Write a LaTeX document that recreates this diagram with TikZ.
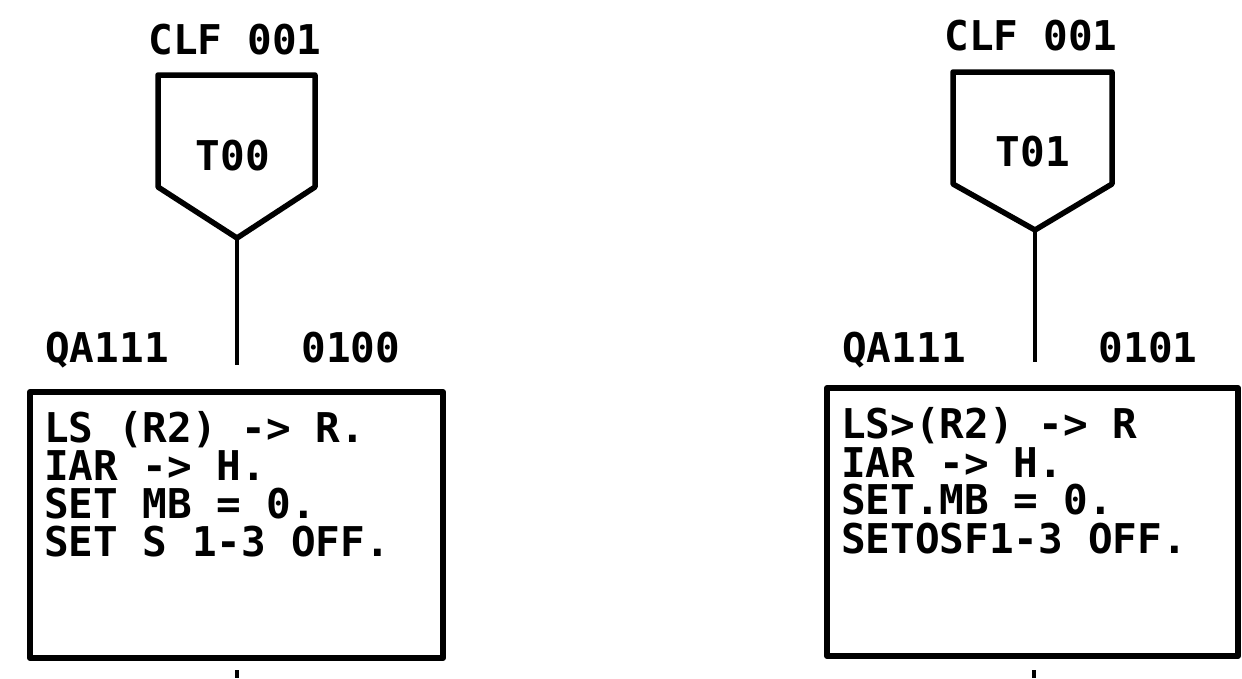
\documentclass[tikz,border=0pt]{standalone}
\usepackage{fontspec}
\newfontfamily\typefont{DejaVu Sans Mono}
\begin{document}
\begin{tikzpicture}[x=1pt,y=-1pt,
  lbl/.style={font=\typefont\bfseries\fontsize{41}{38}\selectfont, inner sep=0pt, anchor=base},
  txt/.style={font=\typefont\bfseries\fontsize{41}{38}\selectfont, inner sep=0pt, anchor=base west},
  boxline/.style={line width=6pt, line join=round},
  penline/.style={line width=5.5pt, line join=round},
  conn/.style={line width=4pt}]
\useasboundingbox (0,0) rectangle (1242,678);
\fill[white] (0,0) rectangle (1242,678);

% ---------- left unit ----------
\node[lbl] (clfL) at (235,54) {CLF 001};
\draw[penline] (158,75) -- (315,75) -- (315,187) -- (237,238) -- (158,187) -- cycle;
\node[lbl] (tL) at (233,170) {T00};
\coordinate (pL) at (237,238);
\coordinate (eL) at (237,365);
\draw[conn] (pL) -- (eL);
\node[lbl] (qL) at (107,362) {QA111};
\node[lbl] (nL) at (351,362) {0100};
\node[draw, boxline, minimum width=413pt, minimum height=266pt, inner sep=0pt] (boxL) at (236.5,525) {};
\node[txt] (l1) at (44,442) {LS (R2) -> R.};
\node[txt] (l2) at (44,480) {IAR -> H.};
\node[txt] (l3) at (44,518) {SET MB = 0.};
\node[txt] (l4) at (44,556) {SET S 1-3 OFF.};
\coordinate (sL1) at (237,670);
\coordinate (sL2) at (237,678);
\draw[conn] (sL1) -- (sL2);

% ---------- right unit ----------
\node[lbl] (clfR) at (1031,50) {CLF 001};
\draw[penline] (953,72) -- (1112,72) -- (1112,184) -- (1035,230) -- (953,184) -- cycle;
\node[lbl] (tR) at (1033,166) {T01};
\coordinate (pR) at (1035,230);
\coordinate (eR) at (1035,362);
\draw[conn] (pR) -- (eR);
\node[lbl] (qR) at (904,362) {QA111};
\node[lbl] (nR) at (1148,362) {0101};
\node[draw, boxline, minimum width=411pt, minimum height=268pt, inner sep=0pt] (boxR) at (1032.5,522) {};
\node[txt] (r1) at (841,438) {LS>(R2) -> R};
\node[txt] (r2) at (841,477) {IAR -> H.};
\node[txt] (r3) at (841,514) {SET.MB = 0.};
\node[txt] (r4) at (841,553) {SETOSF1-3 OFF.};
\coordinate (sR1) at (1034,670);
\coordinate (sR2) at (1034,678);
\draw[conn] (sR1) -- (sR2);
\end{tikzpicture}
\end{document}
